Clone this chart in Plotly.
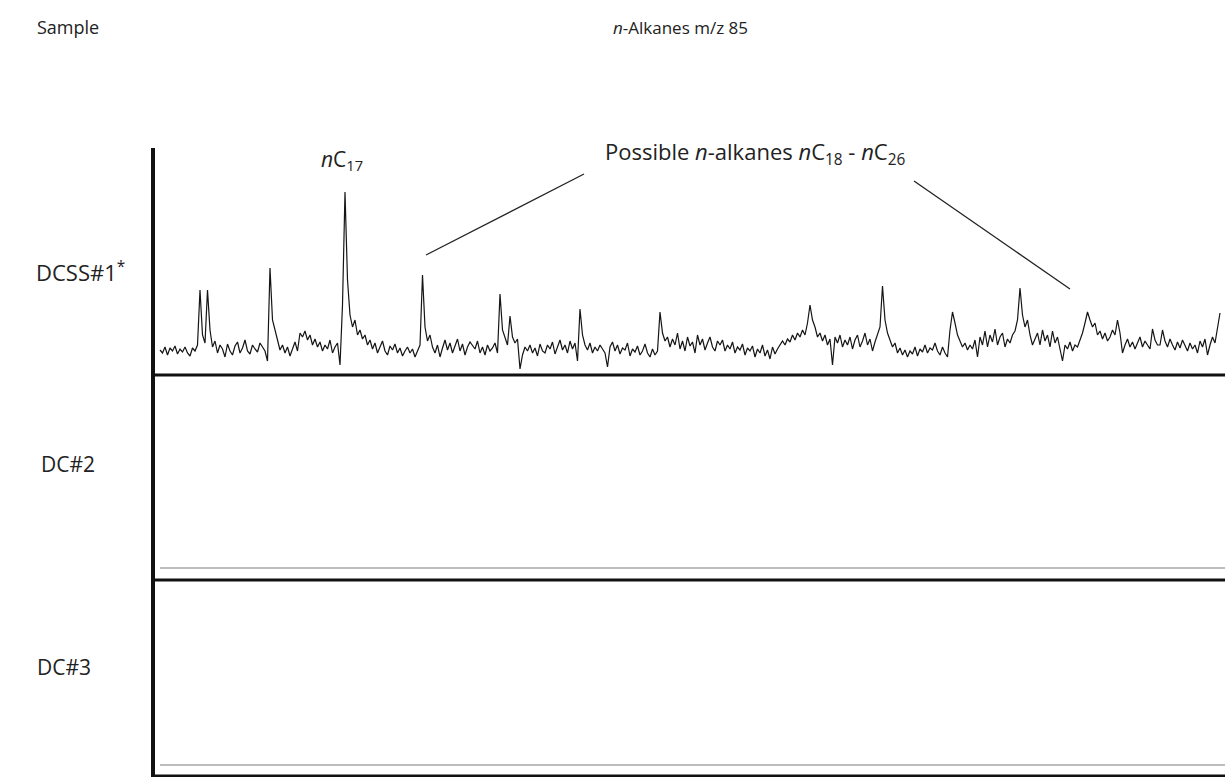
import plotly.graph_objects as go

W, H = 1225, 777

# ---- data: DCSS#1 m/z 85 trace (intensity, arbitrary units), one value per scan ----
dcss1_signal = (
    [25, 22, 28, 20, 27, 24, 29, 21, 26, 23, 28, 22, 19, 27, 24, 30, 85, 40, 32, 85, 45, 28, 34, 22, 30]
    + [26, 18, 31, 24, 20, 29, 33, 22, 27, 35, 24, 21, 30, 26, 23, 32, 28, 24, 14, 107, 55, 45, 38, 25, 30]
    + [22, 28, 19, 26, 33, 24, 42, 38, 44, 35, 40, 30, 36, 28, 33, 24, 30, 26, 35, 22, 28, 32, 10, 70, 183]
    + [95, 60, 48, 55, 40, 45, 36, 40, 30, 35, 26, 32, 22, 28, 34, 24, 20, 29, 25, 31, 22, 27, 19, 24, 28]
    + [22, 26, 18, 24, 30, 100, 48, 34, 40, 28, 22, 30, 18, 27, 35, 25, 32, 22, 29, 36, 24, 31, 20, 28, 33]
    + [30, 26, 34, 22, 28, 20, 30, 24, 27, 32, 22, 81, 45, 38, 30, 59, 38, 32, 36, 6, 20, 28, 24, 30, 22]
    + [27, 19, 31, 24, 22, 30, 26, 33, 21, 28, 35, 25, 30, 22, 34, 26, 32, 14, 66, 40, 30, 25, 32, 22, 28]
    + [24, 30, 26, 22, 8, 28, 33, 24, 30, 21, 27, 25, 32, 19, 26, 23, 29, 20, 24, 31, 22, 18, 26, 20, 24]
    + [63, 42, 34, 38, 28, 36, 30, 42, 26, 34, 24, 38, 29, 33, 22, 40, 30, 36, 25, 32, 38, 28, 24, 34, 30]
    + [35, 24, 30, 26, 33, 22, 28, 25, 31, 20, 27, 24, 29, 18, 26, 22, 30, 19, 25, 16, 28, 21, 26, 30, 34]
    + [30, 36, 33, 40, 35, 42, 38, 45, 40, 52, 70, 55, 48, 38, 42, 34, 40, 30, 36, 10, 38, 32, 40, 28, 35]
    + [30, 38, 26, 35, 40, 28, 34, 42, 30, 36, 24, 33, 40, 48, 89, 55, 42, 34, 28, 32, 22, 27, 20, 25, 18]
    + [24, 21, 28, 19, 26, 23, 30, 22, 27, 25, 32, 24, 20, 28, 22, 18, 45, 63, 52, 40, 34, 28, 32, 25, 30]
    + [26, 35, 18, 38, 30, 44, 28, 40, 33, 46, 30, 38, 42, 28, 36, 32, 40, 44, 55, 87, 60, 48, 55, 40, 30]
    + [36, 42, 30, 45, 34, 40, 28, 44, 32, 38, 26, 14, 30, 26, 33, 24, 30, 28, 35, 42, 52, 63, 55, 48, 52]
    + [40, 44, 36, 42, 34, 38, 45, 40, 55, 42, 22, 30, 36, 28, 33, 26, 32, 38, 28, 34, 30, 26, 46, 35, 30]
    + [30, 45, 34, 28, 36, 30, 25, 33, 27, 35, 29, 24, 32, 26, 30, 22, 34, 28, 36, 20, 30, 38, 32, 48, 62]
)
dcss1_scan = list(range(len(dcss1_signal)))

# DC#2 and DC#3: no n-alkane signal (flat baselines)
dc2_scan = [0, 426]
dc2_signal = [0, 0]
dc3_scan = [0, 426]
dc3_signal = [0, 0]

sample_labels = ["DCSS#1<sup>*</sup>", "DC#2", "DC#3"]


def px(x):
    return x / W


def py(y):
    return 1 - y / H


fig = go.Figure()
fig.add_trace(go.Scatter(x=dcss1_scan, y=dcss1_signal, mode="lines",
                         line=dict(color="#151515", width=1.2), xaxis="x", yaxis="y",
                         showlegend=False, hoverinfo="skip"))
fig.add_trace(go.Scatter(x=dc2_scan, y=dc2_signal, mode="lines",
                         line=dict(color="#bdbdbd", width=2), xaxis="x", yaxis="y2",
                         showlegend=False, hoverinfo="skip"))
fig.add_trace(go.Scatter(x=dc3_scan, y=dc3_signal, mode="lines",
                         line=dict(color="#bdbdbd", width=2), xaxis="x", yaxis="y3",
                         showlegend=False, hoverinfo="skip"))

hidden = dict(visible=False, showgrid=False, zeroline=False, fixedrange=True)
fig.update_layout(
    width=W, height=H,
    margin=dict(l=0, r=0, t=0, b=0),
    paper_bgcolor="white", plot_bgcolor="rgba(0,0,0,0)",
    xaxis=dict(domain=[0, 1], range=[-64, 426], **hidden),
    yaxis=dict(domain=[py(375), py(148)], range=[0, 227], **hidden),
    yaxis2=dict(domain=[py(580), py(375)], range=[-12, 193], **hidden),
    yaxis3=dict(domain=[0, py(580)], range=[-12, 185], **hidden),
    font=dict(family="Open Sans, Lato, sans-serif", color="#222222", size=18),
)

# frame lines
shapes = [
    dict(type="line", xref="paper", yref="paper", x0=px(153), x1=px(153), y0=py(148), y1=py(777),
         line=dict(color="#111111", width=4)),
    dict(type="line", xref="paper", yref="paper", x0=px(153), x1=1, y0=py(375), y1=py(375),
         line=dict(color="#111111", width=3)),
    dict(type="line", xref="paper", yref="paper", x0=px(153), x1=1, y0=py(580), y1=py(580),
         line=dict(color="#111111", width=3)),
    dict(type="line", xref="paper", yref="paper", x0=px(153), x1=1, y0=py(776), y1=py(776),
         line=dict(color="#111111", width=3)),
    # leader lines
    dict(type="line", xref="paper", yref="paper", x0=px(426), x1=px(584), y0=py(255), y1=py(174),
         line=dict(color="#222222", width=1.3)),
    dict(type="line", xref="paper", yref="paper", x0=px(914), x1=px(1070), y0=py(181), y1=py(289),
         line=dict(color="#222222", width=1.3)),
]
fig.update_layout(shapes=shapes)

ann = [
    dict(text="Sample", x=px(35), y=py(27), xanchor="left", font=dict(size=18)),
    dict(text="<i>n</i>-Alkanes m/z 85", x=px(680), y=py(27), xanchor="center", font=dict(size=17)),
    dict(text="<i>n</i>C<sub>17</sub>", x=px(342), y=py(160), xanchor="center", font=dict(size=21)),
    dict(text="Possible <i>n</i>-alkanes <i>n</i>C<sub>18</sub> - <i>n</i>C<sub>26</sub>",
         x=px(755), y=py(153), xanchor="center", font=dict(size=22)),
    dict(text=sample_labels[0], x=px(34), y=py(271), xanchor="left", font=dict(size=22)),
    dict(text=sample_labels[1], x=px(39), y=py(464), xanchor="left", font=dict(size=21)),
    dict(text=sample_labels[2], x=px(35), y=py(667), xanchor="left", font=dict(size=21)),
]
for a in ann:
    a.update(xref="paper", yref="paper", yanchor="middle", showarrow=False)
fig.update_layout(annotations=ann)

fig.write_html("out.html")
